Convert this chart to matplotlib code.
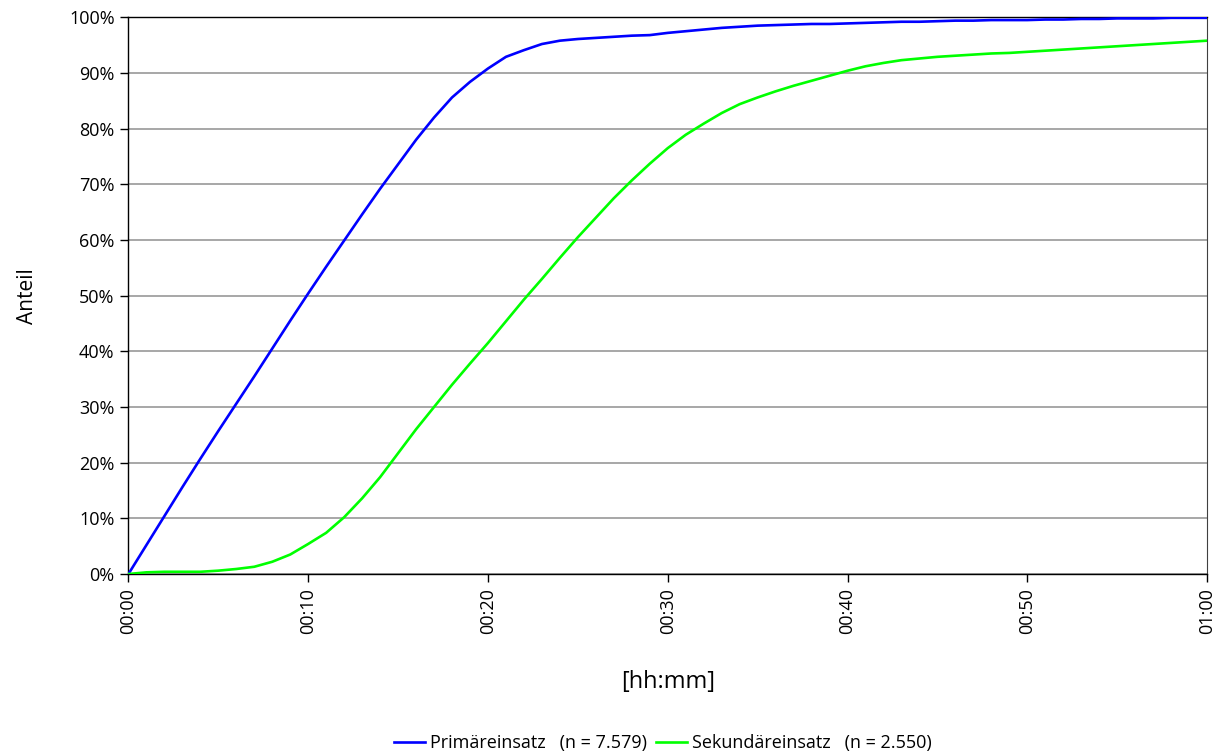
import matplotlib
matplotlib.use("Agg")
import matplotlib.pyplot as plt
from matplotlib.ticker import FixedLocator, FuncFormatter

plt.rcParams['font.family'] = ['Open Sans', 'DejaVu Sans']

minutes = list(range(0, 61))
primaer = [0, 5.2, 10.4, 15.6, 20.7, 25.7, 30.6, 35.5, 40.5, 45.5,
           50.4, 55.2, 59.9, 64.6, 69.2, 73.6, 78.0, 82.0, 85.6, 88.4,
           90.8, 92.9, 94.1, 95.2, 95.8, 96.1, 96.3, 96.5, 96.7, 96.8,
           97.2, 97.5, 97.8, 98.1, 98.3, 98.5, 98.6, 98.7, 98.8, 98.8,
           98.9, 99.0, 99.1, 99.2, 99.2, 99.3, 99.4, 99.4, 99.5, 99.5,
           99.5, 99.6, 99.6, 99.7, 99.7, 99.8, 99.8, 99.8, 99.9, 99.9,
           99.9]
sekundaer = [0, 0.3, 0.4, 0.4, 0.4, 0.6, 0.9, 1.3, 2.2, 3.5,
             5.4, 7.4, 10.2, 13.6, 17.4, 21.7, 26.0, 30.0, 34.0, 37.8,
             41.5, 45.4, 49.3, 53.0, 56.8, 60.5, 64.0, 67.5, 70.7, 73.7,
             76.5, 78.9, 80.9, 82.8, 84.4, 85.6, 86.7, 87.7, 88.6, 89.5,
             90.4, 91.2, 91.8, 92.3, 92.6, 92.9, 93.1, 93.3, 93.5, 93.6,
             93.8, 94.0, 94.2, 94.4, 94.6, 94.8, 95.0, 95.2, 95.4, 95.6,
             95.8]
labels = ["Primäreinsatz   (n = 7.579)", "Sekundäreinsatz   (n = 2.550)"]
x_ticks = [0, 10, 20, 30, 40, 50, 60]
y_ticks = [0, 10, 20, 30, 40, 50, 60, 70, 80, 90, 100]

fig = plt.figure(figsize=(12.14, 7.52), dpi=100)
ax = fig.add_axes([0.1058, 0.2367, 0.8885, 0.7403])

ax.plot(minutes, primaer, color='#0000ff', lw=1.9, label=labels[0], zorder=3)
ax.plot(minutes, sekundaer, color='#00ff00', lw=1.9, label=labels[1], zorder=3)

ax.set_xlim(0, 60)
ax.set_ylim(0, 100)
ax.xaxis.set_major_locator(FixedLocator(x_ticks))
ax.yaxis.set_major_locator(FixedLocator(y_ticks))
ax.xaxis.set_major_formatter(FuncFormatter(lambda v, p: f"{int(v)//60:02d}:{int(v)%60:02d}"))
ax.yaxis.set_major_formatter(FuncFormatter(lambda v, p: f"{int(v)}%"))
ax.tick_params(axis='x', labelrotation=90, direction='out', length=6, width=1, labelsize=13, pad=4)
ax.tick_params(axis='y', direction='out', length=6, width=1, labelsize=13, pad=4)
ax.grid(axis='y', color='#a0a0a0', lw=1.3, zorder=1)
ax.set_axisbelow(True)
for s in ['left', 'bottom', 'top']:
    ax.spines[s].set_color('black')
    ax.spines[s].set_linewidth(1.0)
ax.spines['right'].set_color('#404040')

ax.set_ylabel("Anteil", fontsize=15, labelpad=22)
ax.set_xlabel("[hh:mm]", fontsize=17, labelpad=26)

fig.legend(loc='lower center', bbox_to_anchor=(0.546, -0.022), ncol=2, frameon=False,
           fontsize=13, handlelength=1.7, handletextpad=0.3, columnspacing=0.5)

fig.savefig("out.png", dpi=100)
